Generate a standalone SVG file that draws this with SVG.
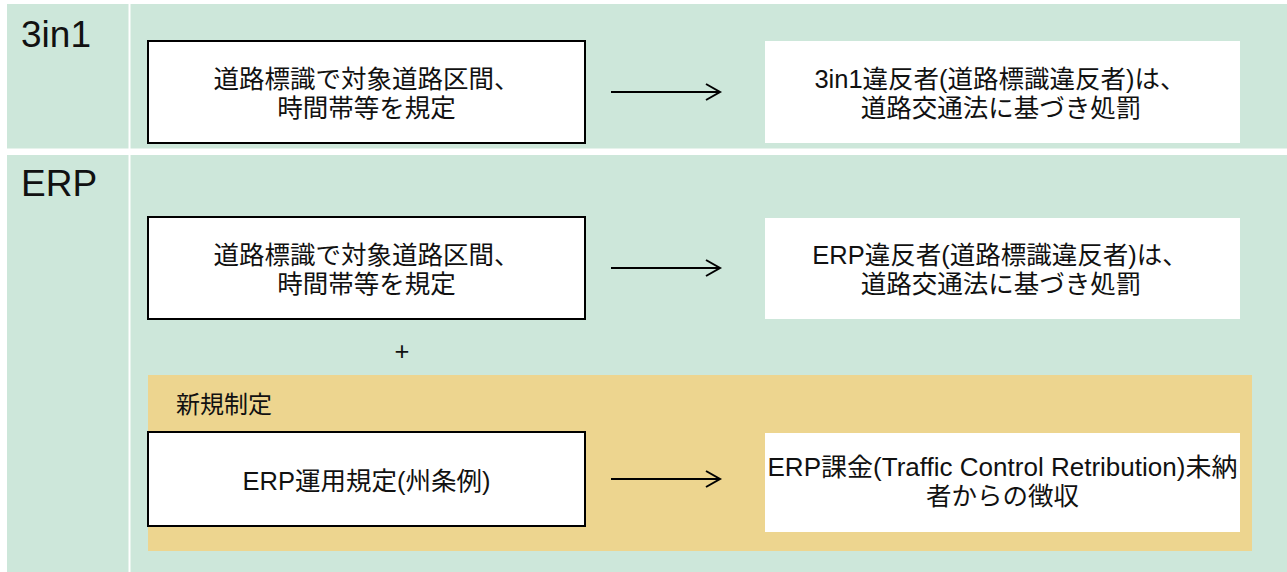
<svg xmlns="http://www.w3.org/2000/svg" width="1287" height="572" viewBox="0 0 1287 572">
  <style>
    .cell { fill: #cde7da; }
    .zone { fill: #edd58f; }
    .box { fill: #ffffff; stroke: #000000; stroke-width: 2; }
    .plain { fill: #ffffff; }
    .t { font-family: "Liberation Sans", "Noto Sans CJK JP", sans-serif; font-size: 25.5px; fill: #111111; text-anchor: middle; }
    .head { font-family: "Liberation Sans", "Noto Sans CJK JP", sans-serif; font-size: 37px; fill: #111111; }
    .lbl { font-family: "Liberation Sans", "Noto Sans CJK JP", sans-serif; font-size: 24px; fill: #111111; }
    .arrow { stroke: #000000; stroke-width: 2; fill: none; }
  </style>

  <!-- table background -->
  <rect width="1287" height="572" fill="#ffffff"/>
  <rect class="cell" x="7" y="4" width="121.5" height="144.5"/>
  <rect class="cell" x="130.5" y="4" width="1156.5" height="144.5"/>
  <rect class="cell" x="7" y="155" width="121.5" height="417"/>
  <rect class="cell" x="130.5" y="155" width="1156.5" height="417"/>

  <text class="head" x="21" y="47">3in1</text>
  <text class="head" x="21" y="196">ERP</text>

  <!-- new-regulation zone -->
  <g id="zone-new">
    <rect class="zone" x="148" y="375" width="1104" height="176"/>
    <text class="lbl" x="176" y="413">新規制定</text>
  </g>

  <g id="sign-3in1">
    <rect class="box" x="148" y="41" width="437" height="102"/>
    <text class="t" x="366.5" y="88">道路標識で対象道路区間、</text>
    <text class="t" x="366.5" y="117">時間帯等を規定</text>
  </g>
  <g id="penalty-3in1">
    <rect class="plain" x="765" y="41" width="475" height="102"/>
    <text class="t" x="1000" y="88">3in1違反者(道路標識違反者)は、</text>
    <text class="t" x="1001" y="117">道路交通法に基づき処罰</text>
  </g>

  <g id="sign-erp">
    <rect class="box" x="148" y="217" width="437" height="102"/>
    <text class="t" x="366.5" y="264">道路標識で対象道路区間、</text>
    <text class="t" x="366.5" y="293">時間帯等を規定</text>
  </g>
  <g id="penalty-erp">
    <rect class="plain" x="765" y="218" width="475" height="101"/>
    <text class="t" x="1000" y="264">ERP違反者(道路標識違反者)は、</text>
    <text class="t" x="1001" y="293">道路交通法に基づき処罰</text>
  </g>

  <g id="plus">
    <text class="t" x="402" y="360">+</text>
  </g>

  <g id="rule-erp">
    <rect class="box" x="148" y="432" width="437" height="94"/>
    <text class="t" x="366.5" y="490">ERP運用規定(州条例)</text>
  </g>
  <g id="fee-erp">
    <rect class="plain" x="765" y="433" width="475" height="99"/>
    <text class="t" x="1002.5" y="476" textLength="470" lengthAdjust="spacingAndGlyphs">ERP課金(Traffic Control Retribution)未納</text>
    <text class="t" x="1002.5" y="505">者からの徴収</text>
  </g>

  <!-- connectors -->
  <g id="connectors">
    <path class="arrow" d="M611 92 H720 M706 84 L720 92 L706 100"/>
    <path class="arrow" d="M611 268 H720 M706 260 L720 268 L706 276"/>
    <path class="arrow" d="M611 479 H720 M706 471 L720 479 L706 487"/>
  </g>
</svg>
